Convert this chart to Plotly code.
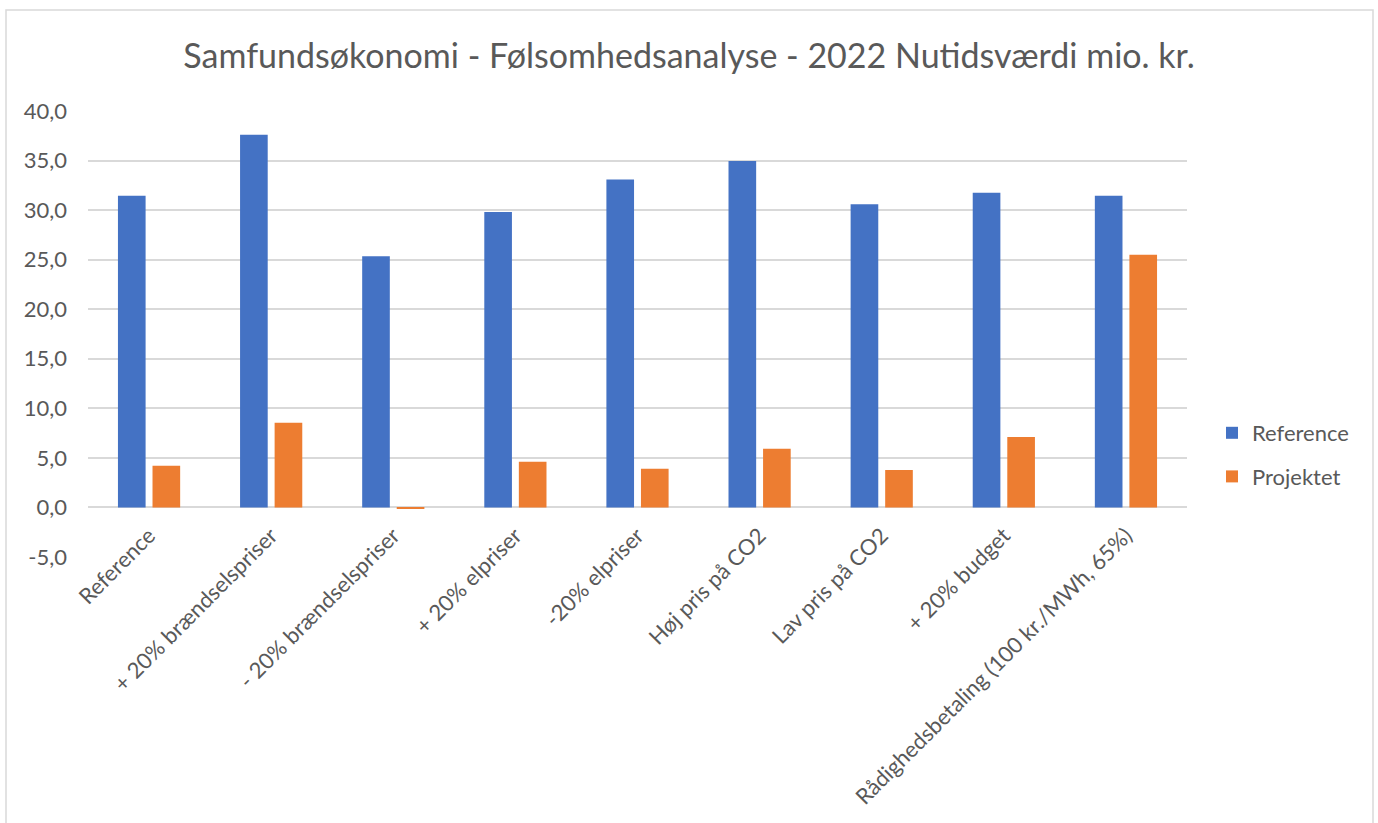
import plotly.graph_objects as go

categories = [
    "Reference",
    "+ 20% brændselspriser",
    "- 20% brændselspriser",
    "+ 20% elpriser",
    "-20% elpriser",
    "Høj pris på CO2",
    "Lav pris på CO2",
    "+ 20% budget",
    "Rådighedsbetaling (100 kr./MWh, 65%)",
]
reference_values = [31.45, 37.6, 25.35, 29.8, 33.1, 34.95, 30.6, 31.75, 31.45]
projektet_values = [4.2, 8.55, -0.1, 4.6, 3.9, 5.93, 3.77, 7.1, 25.5]

y_tickvals = [-5, 0, 5, 10, 15, 20, 25, 30, 35, 40]
y_ticktext = ["-5,0", "0,0", "5,0", "10,0", "15,0", "20,0", "25,0", "30,0", "35,0", "40,0"]

title_text = "Samfundsøkonomi - Følsomhedsanalyse - 2022 Nutidsværdi mio. kr."

FONT = "Lato"
TXT = "#595959"
BLUE = "#4472C4"
ORANGE = "#ED7D31"
GRID = "#D9D9D9"

fig = go.Figure()
fig.add_trace(go.Bar(name="Reference", x=categories, y=reference_values,
                     marker=dict(color=BLUE, line=dict(width=0)), legendgroup="a"))
fig.add_trace(go.Bar(name="Projektet", x=categories, y=projektet_values,
                     marker=dict(color=ORANGE, line=dict(width=0)), legendgroup="b"))

W, H = 1378, 823
ml, mr, mt, mb = 88, 191, 111, 266
pw = W - ml - mr
ph = H - mt - mb
ymin, ymax = -5, 40

fig.update_layout(
    width=W, height=H,
    margin=dict(l=ml, r=mr, t=mt, b=mb, pad=0),
    paper_bgcolor="white", plot_bgcolor="white",
    font=dict(family=FONT, color=TXT, size=22),
    title=dict(text=title_text, x=0.5, xref="container", xanchor="center",
               y=1 - 56 / H, yref="container", yanchor="middle",
               font=dict(family=FONT, size=34, color=TXT)),
    barmode="group", bargap=0.434, bargroupgap=0.2,
    showlegend=True,
    legend=dict(x=(1212 - ml) / pw, y=(557 - 455) / ph, xanchor="left", yanchor="middle",
                font=dict(size=22, color=TXT), tracegroupgap=12,
                bgcolor="rgba(0,0,0,0)"),
    xaxis=dict(tickangle=-45, showgrid=False, showline=False, ticks="",
               anchor="free", position=(0 - ymin) / (ymax - ymin),
               ticklabelstandoff=10,
               tickfont=dict(size=22, color=TXT), automargin=False),
    yaxis=dict(range=[ymin, ymax], tickvals=y_tickvals, ticktext=y_ticktext,
               showgrid=True, gridcolor=GRID, gridwidth=1.5,
               zeroline=True, zerolinecolor=GRID, zerolinewidth=1.5,
               showline=False, ticks="", ticklabelstandoff=20,
               tickfont=dict(size=22, color=TXT),
               automargin=False),
)

# chart border
fig.add_shape(type="rect", xref="paper", yref="paper",
              x0=(6 - ml) / pw, x1=(1373 - ml) / pw,
              y0=(557 - 830) / ph, y1=(557 - 10) / ph,
              line=dict(color=GRID, width=1.5), fillcolor="rgba(0,0,0,0)", layer="below")

fig.write_html("out.html", config={"displayModeBar": False},
               post_script="document.body.style.margin='0';")
